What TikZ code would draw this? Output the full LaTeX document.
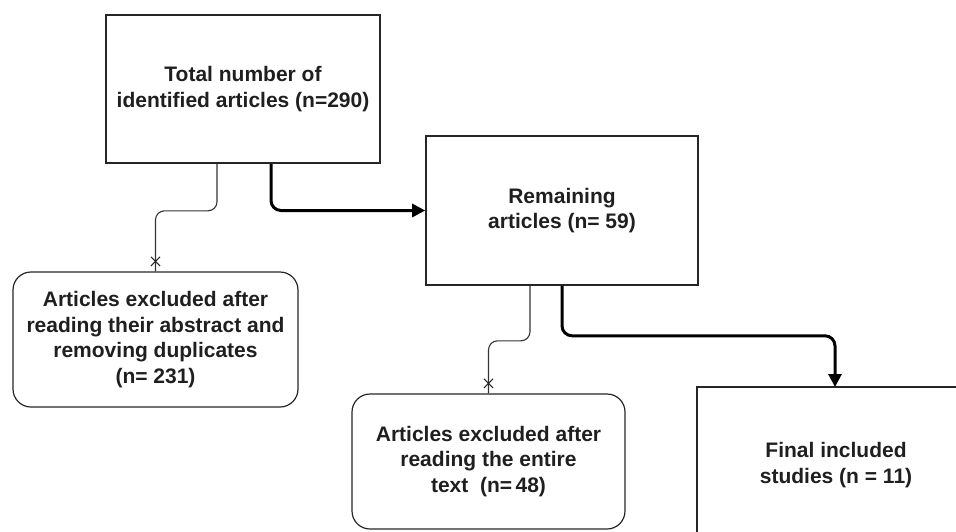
\documentclass[tikz,border=0pt]{standalone}
\usepackage{fontspec}
\setmainfont{Liberation Sans}
\usetikzlibrary{arrows.meta,shapes.misc,calc}
\begin{document}
\begin{tikzpicture}[x=1pt,y=-1pt,
  every node/.style={font=\fontsize{21}{25.5}\selectfont\bfseries, text=black!88},
  sqbox/.style={draw=black!85, line width=1.6pt, align=center, inner sep=0pt},
  rbox/.style={draw=black!85, line width=1.2pt, rounded corners=18pt, align=center, inner sep=0pt},
  thinconn/.style={draw=black!80, line width=1.1pt, rounded corners=9pt},
  thickconn/.style={draw=black, line width=3pt, rounded corners=10pt, -{Triangle[length=13pt,width=13pt]}},
  xmark/.style={cross out, draw=black!85, line width=1.1pt, minimum size=8pt, inner sep=0pt}
]
\useasboundingbox (0,0) rectangle (956,531);

\node[sqbox, minimum width=274pt, minimum height=148pt] (total) at (243,89)
  {Total number of\\identified articles (n=290)};
\node[sqbox, minimum width=272pt, minimum height=149pt] (remain) at (562,210.5)
  {Remaining\\articles (n= 59)};
\node[rbox, minimum width=285pt, minimum height=135pt] (ex1) at (155.5,339.5)
  {Articles excluded after\\reading their abstract and\\removing duplicates\\(n= 231)};
\node[rbox, minimum width=273pt, minimum height=135pt] (ex2) at (488.5,461.5)
  {Articles excluded after\\reading the entire\\text\ \ (n=\,48)};

% open box at the lower right, cut by the edge of the picture
\coordinate (finTL) at (697,387);
\coordinate (finTop) at (835,387);
\draw[draw=black!85, line width=1.6pt] (970,387) -- (finTL) -- (697,545);
\node[align=center] (final) at (836,465) {Final included\\studies (n = 11)};

% connectors
\draw[thinconn] ([xshift=-26pt]total.south) -- ++(0,47) -| (ex1.north);
\node[xmark] (x1) at ([yshift=10pt]ex1.north) {};
\draw[thickconn] ([xshift=28pt]total.south) |- (remain.west);

\draw[thinconn] ([xshift=-32pt]remain.south) -- ++(0,55) -| (ex2.north);
\node[xmark] (x2) at ([yshift=10pt]ex2.north) {};
\draw[thickconn] (remain.south) -- ++(0,50) -| (finTop);
\end{tikzpicture}
\end{document}
